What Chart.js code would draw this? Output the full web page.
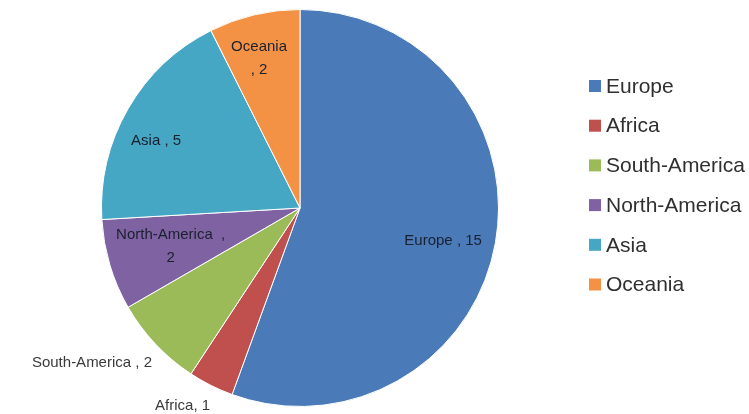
<!DOCTYPE html>
<html>
<head>
<meta charset="utf-8">
<script src="https://cdn.jsdelivr.net/npm/chart.js@4.4.1/dist/chart.umd.min.js"></script>
<style>
  html, body { margin: 0; padding: 0; background: #fff; }
  #regions { display: block; }
</style>
</head>
<body>
<canvas id="regions" width="749" height="414"></canvas>
<script>
const regions = ['Europe', 'Africa', 'South-America', 'North-America', 'Asia', 'Oceania'];
const counts = [15, 1, 2, 2, 5, 2];
const sliceColors = ['#4a7ab8', '#c0504d', '#9bbb59', '#7f62a1', '#45a7c3', '#f39245'];

// how each data label is written ({n} = region, {v} = count, | = line break)
const labelFormats = ['{n} , {v}', '{n}, {v}', '{n} , {v}', '{n}  ,|{v}', '{n} , {v}', '{n}|, {v}'];
// where each label sits: fraction of radius, angle shift (deg), text alignment
const labelRadius = [0.74, 1.16, 1.08, 0.68, 0.80, 0.78];
const labelShift = [3, 4, -3, 0, -5, -2];
const labelAlign = ['center', 'center', 'right', 'center', 'center', 'center'];

const FONT = '"Liberation Sans", Arial, sans-serif';

const sliceLabels = {
    id: 'sliceLabels',
    afterDatasetsDraw(chart) {
        const ctx = chart.ctx;
        const arcs = chart.getDatasetMeta(0).data;
        ctx.save();
        ctx.font = '15px ' + FONT;
        ctx.textBaseline = 'middle';
        arcs.forEach((arc, i) => {
            const mid = (arc.startAngle + arc.endAngle) / 2 + labelShift[i] * Math.PI / 180;
            const r = arc.outerRadius * labelRadius[i];
            const x = arc.x + Math.cos(mid) * r;
            const y = arc.y + Math.sin(mid) * r;
            const lines = labelFormats[i]
                .replace('{n}', regions[i])
                .replace('{v}', counts[i])
                .split('|');
            const lh = 23;
            ctx.textAlign = labelAlign[i];
            ctx.fillStyle = labelRadius[i] > 1 ? '#3a3a3a' : '#1a2030';
            lines.forEach((line, k) => {
                ctx.fillText(line, x, y + (k - (lines.length - 1) / 2) * lh);
            });
        });
        ctx.restore();
    }
};

const sideLegend = {
    id: 'sideLegend',
    afterDraw(chart) {
        const ctx = chart.ctx;
        ctx.save();
        ctx.font = '21px ' + FONT;
        ctx.textBaseline = 'middle';
        ctx.textAlign = 'left';
        regions.forEach((name, i) => {
            const y = 86 + i * 39.7;
            ctx.fillStyle = sliceColors[i];
            ctx.fillRect(589, y - 6, 12, 12);
            ctx.fillStyle = '#303030';
            ctx.fillText(name, 606, y + 1);
        });
        ctx.restore();
    }
};

new Chart(document.getElementById('regions'), {
    type: 'pie',
    data: {
        labels: regions,
        datasets: [{
            data: counts,
            backgroundColor: sliceColors,
            borderColor: '#ffffff',
            borderWidth: 1
        }]
    },
    options: {
        responsive: false,
        animation: false,
        layout: { padding: { top: 9, bottom: 7, left: 0, right: 149 } },
        plugins: {
            legend: { display: false },
            tooltip: { enabled: false }
        }
    },
    plugins: [sliceLabels, sideLegend]
});
</script>
</body>
</html>
